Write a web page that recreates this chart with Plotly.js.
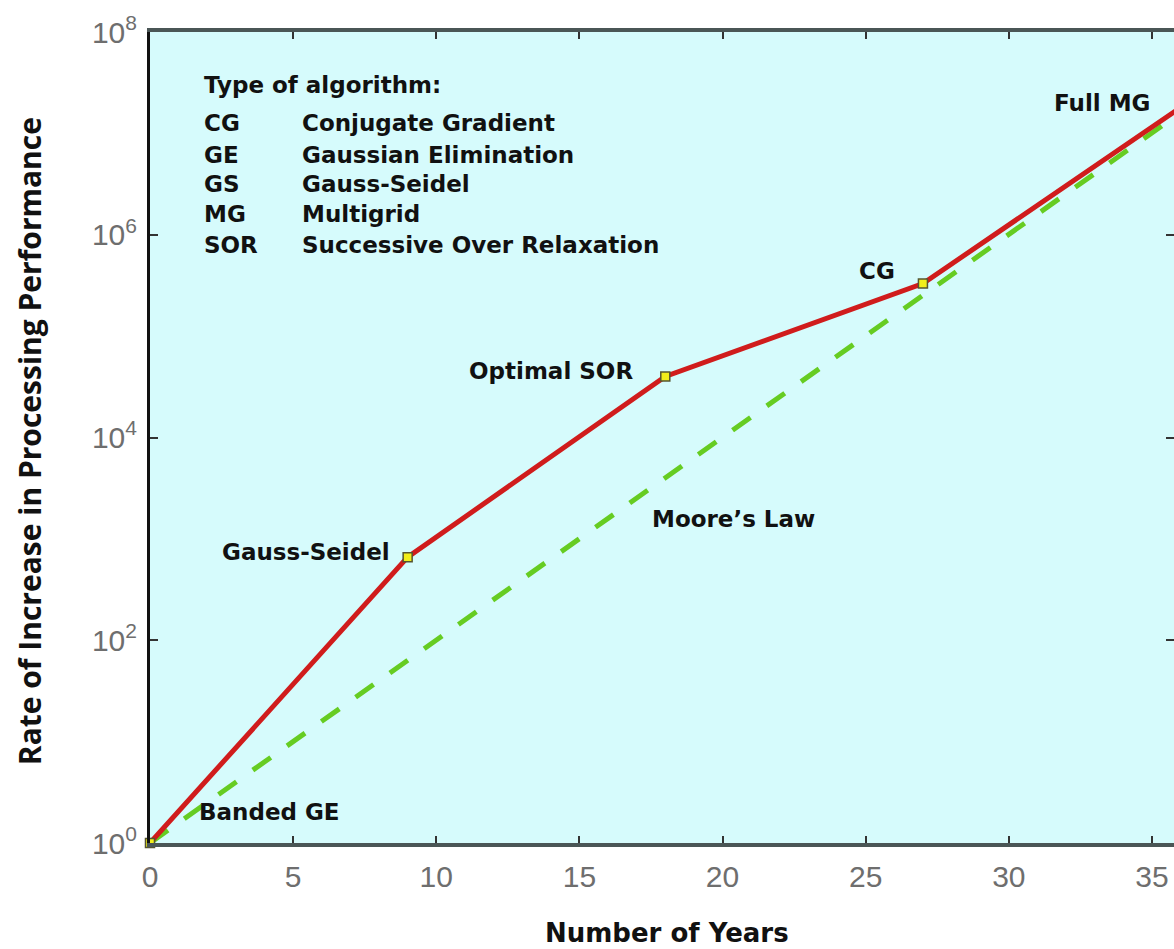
<!DOCTYPE html>
<html>
<head>
<meta charset="utf-8">
<script src="https://cdn.plot.ly/plotly-3.0.1.min.js"></script>
<style>html,body{margin:0;padding:0;background:#fff;overflow:hidden}#chart{width:1174px;height:949px}</style>
</head>
<body>
<div id="chart"></div>
<script>
// ---- data ----
const years = [0, 9, 18, 27, 36];
const algPerf = [1, 660, 40000, 330000, 18000000];
const algLabels = ['Banded GE', 'Gauss-Seidel', 'Optimal SOR', 'CG', 'Full MG'];
const mooreYears = [0, 36];
const moorePerf = [1, 16000000];
const mooreLabel = 'Moore’s Law';
const xTickVals = [0, 5, 10, 15, 20, 25, 30, 35];
const yTickVals = [1, 1e2, 1e4, 1e6, 1e8];
const yTickText = ['10<sup>0</sup>', '10<sup>2</sup>', '10<sup>4</sup>', '10<sup>6</sup>', '10<sup>8</sup>'];
const legendTitle = 'Type of algorithm:';
const legendAbbr = ['CG', 'GE', 'GS', 'MG', 'SOR'];
const legendDesc = ['Conjugate Gradient', 'Gaussian Elimination', 'Gauss-Seidel', 'Multigrid', 'Successive Over Relaxation'];
const xTitle = 'Number of Years';
const yTitle = 'Rate of Increase in Processing Performance';

// ---- styling ----
const labelFont = {family: 'DejaVu Sans', size: 23, color: '#111111', weight: 'bold'};
const tickFont = {family: 'Liberation Sans', size: 30, color: '#6e6e6e'};

const traces = [
  {
    x: mooreYears, y: moorePerf, type: 'scatter', mode: 'lines',
    line: {color: '#66cc22', width: 5, dash: '22px,20px'},
    hoverinfo: 'skip', showlegend: false
  },
  {
    x: years, y: algPerf, type: 'scatter', mode: 'lines+markers',
    line: {color: '#d01c1c', width: 5},
    marker: {symbol: 'square', size: 9, color: '#f2ee1a', line: {color: '#555530', width: 1.5}},
    cliponaxis: false, showlegend: false
  }
];

// label placement (pixel offsets relative to each algorithm point)
const labelOffsets = [
  {xanchor: 'left', xshift: 47, yshift: 31},
  {xanchor: 'right', xshift: -16, yshift: 5},
  {xanchor: 'right', xshift: -30, yshift: 5},
  {xanchor: 'right', xshift: -26, yshift: 13},
  null
];

const annotations = [];
algLabels.forEach((t, i) => {
  if (!labelOffsets[i]) return;
  annotations.push(Object.assign({
    x: years[i], y: Math.log10(algPerf[i]), xref: 'x', yref: 'y',
    text: t, showarrow: false, yanchor: 'middle', font: labelFont
  }, labelOffsets[i]));
});
// last point lies just beyond the visible range: place its label inside
annotations.push({
  x: 35.0, y: 7.30, xref: 'x', yref: 'y', text: algLabels[4], showarrow: false,
  xanchor: 'right', yanchor: 'middle', font: labelFont
});
annotations.push({
  x: 17.46, y: 3.2, xref: 'x', yref: 'y', text: mooreLabel, showarrow: false,
  xanchor: 'left', yanchor: 'middle', font: labelFont
});
// legend block
const rowY = [0.8878, 0.8483, 0.8126, 0.7756, 0.7374];
annotations.push({
  x: 0.0508, y: 0.9346, xref: 'paper', yref: 'paper', text: legendTitle, showarrow: false,
  xanchor: 'left', yanchor: 'middle', font: labelFont
});
legendAbbr.forEach((a, i) => {
  annotations.push({x: 0.0508, y: rowY[i], xref: 'paper', yref: 'paper', text: a, showarrow: false,
    xanchor: 'left', yanchor: 'middle', font: labelFont});
  annotations.push({x: 0.1465, y: rowY[i], xref: 'paper', yref: 'paper', text: legendDesc[i], showarrow: false,
    xanchor: 'left', yanchor: 'middle', font: labelFont});
});
// axis titles
annotations.push({
  x: 0.505, y: -0.111, xref: 'paper', yref: 'paper', text: xTitle, showarrow: false,
  xanchor: 'center', yanchor: 'middle', font: {family: 'DejaVu Sans', size: 26, color: '#111', weight: 'bold'}
});
annotations.push({
  x: -0.117, y: 0.4957, xref: 'paper', yref: 'paper', text: yTitle, showarrow: false, textangle: -90,
  xanchor: 'center', yanchor: 'middle', font: {family: 'Open Sans', size: 30, color: '#111', weight: 'bold'}
});

const layout = {
  width: 1174, height: 949,
  margin: {l: 150, r: 0, t: 32, b: 106, pad: 0},
  paper_bgcolor: '#ffffff',
  plot_bgcolor: '#d6fbfc',
  showlegend: false,
  xaxis: {
    range: [0, 35.77], tickvals: xTickVals, ticks: 'inside', ticklen: 7, tickwidth: 2, tickcolor: '#333',
    showline: true, linecolor: '#4a5656', linewidth: 4, mirror: 'ticks',
    showgrid: false, zeroline: false, tickfont: tickFont, ticklabelstandoff: 4
  },
  yaxis: {
    type: 'log', range: [0, 8], tickvals: yTickVals, ticktext: yTickText,
    ticks: 'inside', ticklen: 8, tickwidth: 2, tickcolor: '#333',
    showline: true, linecolor: '#111', linewidth: 3, mirror: 'ticks',
    showgrid: false, zeroline: false, tickfont: tickFont, ticklabelstandoff: 4
  },
  annotations: annotations
};

Plotly.newPlot('chart', traces, layout, {displayModeBar: false, staticPlot: true});
</script>
</body>
</html>
